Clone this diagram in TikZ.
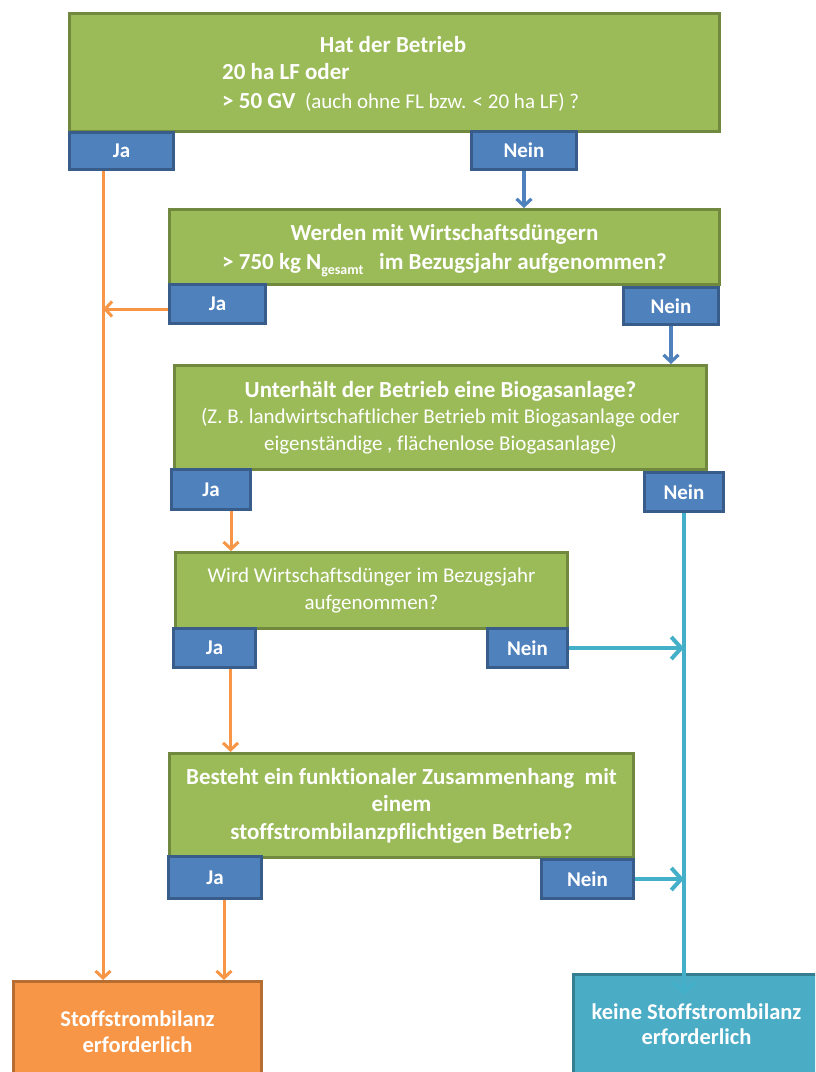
\documentclass[tikz,border=0pt]{standalone}
\usepackage{fontspec}
\setmainfont{Carlito}[Ligatures=NoCommon]
\usetikzlibrary{arrows.meta,calc}
\definecolor{gfill}{HTML}{9BBB59}
\definecolor{gdraw}{HTML}{71893F}
\definecolor{bfill}{HTML}{4F81BD}
\definecolor{bdraw}{HTML}{385D8A}
\definecolor{ofill}{HTML}{F79646}
\definecolor{odraw}{HTML}{B66D31}
\definecolor{tfill}{HTML}{4BACC6}
\definecolor{tdraw}{HTML}{357D91}
\definecolor{tline}{HTML}{43AFC9}
\newcommand{\bfsz}{\fontsize{23}{27.5}\selectfont\bfseries}
\newcommand{\nmsz}{\fontsize{21}{26.5}\selectfont}
\begin{document}
\begin{tikzpicture}[x=1pt,y=-1pt,
  box/.style={rectangle, anchor=north west, line width=3pt, inner sep=0pt, text=white, align=center, font=\nmsz},
  gbox/.style={box, fill=gfill, draw=gdraw},
  bbox/.style={box, fill=bfill, draw=bdraw, font=\fontsize{21}{22}\selectfont\bfseries},
  obox/.style={box, fill=ofill, draw=odraw, font=\fontsize{22.5}{25.5}\selectfont\bfseries},
  tbox/.style={box, fill=tfill, draw=tdraw, font=\fontsize{22.5}{25.5}\selectfont\bfseries},
  txt/.style={inner sep=0pt, text=white, font=\nmsz},
  oarrow/.style={draw=ofill, line width=3pt, -{Straight Barb[length=7pt,width=15pt]}},
  barrow/.style={draw=bfill, line width=3.2pt, -{Straight Barb[length=7pt,width=15pt]}},
  tarrow/.style={draw=tline, line width=4pt, -{Straight Barb[length=10pt,width=22pt]}},
]
\useasboundingbox (0,0) rectangle (815,1072);
\clip (0,0) rectangle (815,1072);

% question boxes
\node[gbox, minimum width=650, minimum height=118] (q1) at (68,12) {};
\node[txt, anchor=base, font=\bfsz] (q1a) at (393,52) {Hat der Betrieb};
\node[txt, anchor=base west, font=\bfsz] (q1b) at (222,79) {20 ha LF oder};
\node[txt, anchor=base west] (q1c) at (222,108) {{\bfsz > 50 GV}\ \ (auch ohne FL bzw. < 20 ha LF) ?};

\node[gbox, minimum width=550, minimum height=75, font=\bfsz, text depth=0pt] (q2) at (168,208)
  {\rule{0pt}{12pt}Werden mit Wirtschaftsdüngern\\[1pt]> 750 kg N\raisebox{-5pt}[0pt][0pt]{\fontsize{14}{14}\selectfont gesamt}\ \ \ im Bezugsjahr aufgenommen?};

\node[gbox, minimum width=532, minimum height=104] (q3) at (173,364)
  {{\bfsz Unterhält der Betrieb eine Biogasanlage?}\\(Z. B. landwirtschaftlicher Betrieb mit Biogasanlage oder\\eigenständige , flächenlose Biogasanlage)};

\node[gbox, minimum width=392, minimum height=76] (q4) at (174,551)
  {Wird Wirtschaftsdünger im Bezugsjahr\\aufgenommen?};

\node[gbox, minimum width=464, minimum height=104, font=\bfsz] (q5) at (168,752)
  {Besteht ein funktionaler Zusammenhang\ \ mit\\einem\\stoffstrombilanzpflichtigen Betrieb?};

% answer boxes
\node[bbox, minimum width=104, minimum height=37] (ja1) at (68,131) {Ja};
\node[bbox, minimum width=105, minimum height=38] (nein1) at (470,130) {Nein};
\node[bbox, minimum width=96, minimum height=39] (ja2) at (168,283) {Ja};
\node[bbox, minimum width=95, minimum height=37] (nein2) at (622,286) {Nein};
\node[bbox, minimum width=79, minimum height=40] (ja3) at (170,468) {Ja};
\node[bbox, minimum width=79, minimum height=39] (nein3) at (643,471) {Nein};
\node[bbox, minimum width=82, minimum height=39] (ja4) at (172,627) {Ja};
\node[bbox, minimum width=80, minimum height=39] (nein4) at (486,627) {Nein};
\node[bbox, minimum width=93, minimum height=42] (ja5) at (167,855) {Ja};
\node[bbox, minimum width=92, minimum height=39] (nein5) at (540,858) {Nein};

% result boxes
\node[obox, minimum width=248, minimum height=100] (res1) at (12,980) {Stoffstrombilanz\\erforderlich};
\node[tbox, minimum width=246, minimum height=99] (res2) at (572,973) {keine Stoffstrombilanz\\erforderlich};

% orange connectors
\coordinate (ox) at (103,0);
\draw[oarrow] (ja1.south -| ox) -- (res1.north -| ox);
\draw[oarrow] ([yshift=-5pt]ja2.west) -- ([yshift=-5pt]ja2.west -| ox);
\draw[oarrow] ([xshift=20pt]ja3.south) -- ([xshift=20pt]ja3.south |- q4.north);
\draw[oarrow] ([xshift=16pt]ja4.south) -- ([xshift=16pt]ja4.south |- q5.north);
\draw[oarrow] ([xshift=9pt]ja5.south) -- ([xshift=9pt]ja5.south |- res1.north);

% blue connectors
\draw[barrow] (nein1.south) -- (nein1.south |- q2.north);
\draw[barrow] (nein2.south) -- (nein2.south |- q3.north);

% teal connectors
\draw[tarrow] (nein3.south) -- ([yshift=-22pt]nein3.south |- res2.north);
\draw[tarrow] (nein4.east) -- (nein4.east -| nein3.south);
\draw[tarrow] (nein5.east) -- (nein5.east -| nein3.south);
\end{tikzpicture}
\end{document}
